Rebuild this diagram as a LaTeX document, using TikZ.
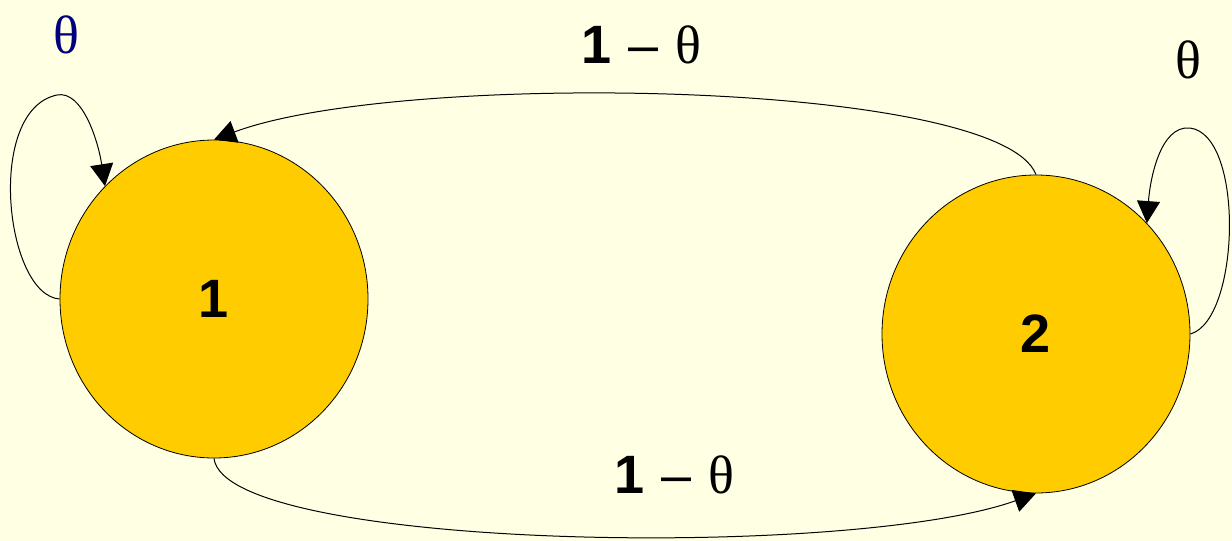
\documentclass[tikz,border=0pt]{standalone}
\usepackage{fontspec}
\setmainfont{Liberation Serif}
\setsansfont{Liberation Sans}
\usetikzlibrary{arrows.meta,shapes.geometric}
\definecolor{bgyellow}{RGB}{255,255,228}
\definecolor{stategold}{RGB}{255,204,0}
\definecolor{thetablue}{RGB}{0,0,128}
\newcommand{\onemtheta}{{\sffamily\bfseries 1}\hspace{17pt}{\sffamily –}\hspace{17pt}θ}
\tikzset{
  state/.style={ellipse, draw=black, line width=0.8pt, fill=stategold,
    minimum width=308pt, minimum height=318pt, inner sep=0pt,
    font=\sffamily\bfseries\fontsize{54}{60}\selectfont},
  arr/.style={draw=black, line width=1pt, -{Triangle[length=22pt,width=23pt]}},
  lbl/.style={inner sep=0pt, font=\fontsize{54}{60}\selectfont}
}
\begin{document}
\begin{tikzpicture}[x=1pt,y=-1pt]
  \fill[bgyellow] (0,0) rectangle (1232,541);
  \useasboundingbox (0,0) rectangle (1232,541);
  \node[state] (n1) at (214,299) {1};
  \node[state] (n2) at (1036,334) {2};
  % self loop on 1
  \draw[arr] (n1.west) .. controls (5,295) and (-15,110) .. (57,95)
                       .. controls (82,90) and (98,140) .. (n1.134);
  % self loop on 2
  \draw[arr] (n2.east) .. controls (1240,320) and (1245,135) .. (1190,128)
                       .. controls (1160,125) and (1150,180) .. (n2.45);
  % 2 -> 1 (top)
  \draw[arr] (n2.north) .. controls (1000,80) and (400,70) .. (n1.north);
  % 1 -> 2 (bottom)
  \draw[arr] (n1.south) .. controls (225,550) and (850,560) .. (n2.south);
  % labels
  \node[lbl, text=thetablue] (t1) at (66,35) {θ};
  \node[lbl] (t2) at (1188,60) {θ};
  \node[lbl] (top) at (641,45) {\onemtheta};
  \node[lbl] (bot) at (674,475) {\onemtheta};
\end{tikzpicture}
\end{document}
